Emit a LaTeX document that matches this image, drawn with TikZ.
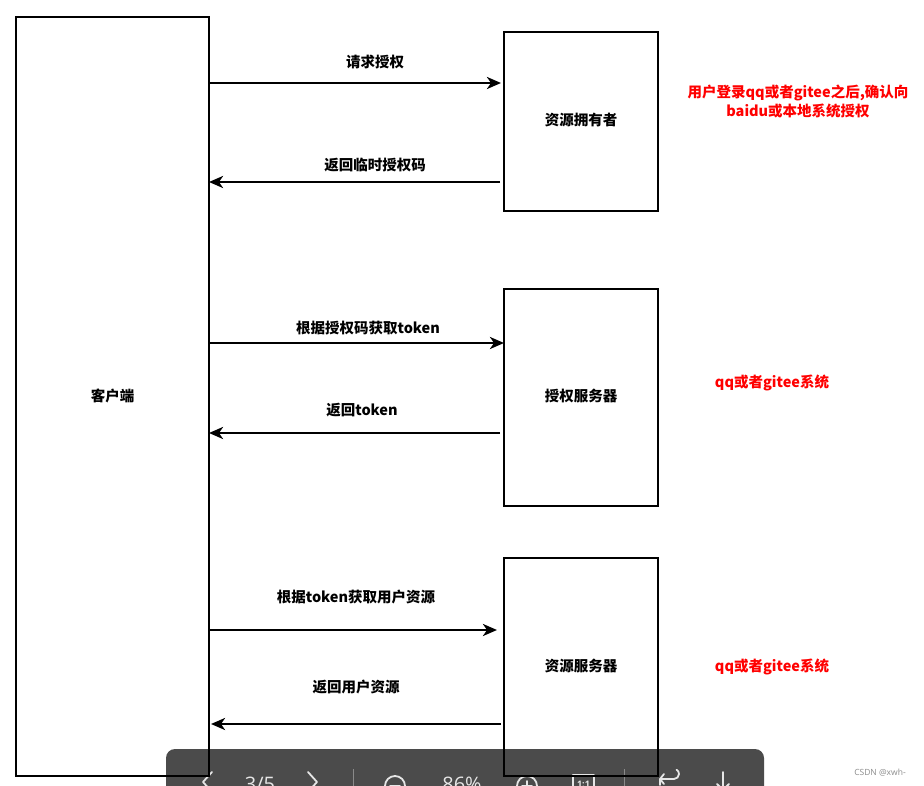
\documentclass[tikz,border=0pt]{standalone}
\usepackage{fontspec}
\setmainfont{Noto Sans CJK SC}
\newfontfamily\uifont{Open Sans}
\newfontfamily\symfont{DejaVu Sans}
\usetikzlibrary{arrows.meta}
\definecolor{barbg}{HTML}{4B4B4B}
\definecolor{barfg}{HTML}{E6E6E6}
\definecolor{sepc}{HTML}{8A8A8A}
\tikzset{
  box/.style={draw=black,line width=2.4pt,rectangle,inner sep=0pt},
  lbl/.style={font=\fontsize{14.5pt}{17pt}\selectfont\bfseries,inner sep=0pt},
  note/.style={lbl,text=red,align=center},
  msg/.style={line width=2.5pt,-{Stealth[length=14pt,width=12pt,inset=4pt]}},
  uitxt/.style={font=\uifont\fontsize{20pt}{22pt}\selectfont,text=barfg,inner sep=0pt,anchor=base},
  uiline/.style={draw=barfg,line width=1.8pt,line cap=round,line join=round}
}
\begin{document}
\begin{tikzpicture}[x=1pt,y=-1pt]
\useasboundingbox (0,0) rectangle (924,786);
\clip (0,0) rectangle (924,786);
\fill[white] (0,0) rectangle (924,786);
% viewer toolbar (behind the diagram)
\fill[barbg,rounded corners=9pt] (166,749) rectangle (764,806);
\node[uitxt] (pg) at (260,791) {3/5};
\node[uitxt] (zm) at (462,791) {86\%};
\draw[uiline] (212,772) -- (203,782) -- (212,792);
\draw[uiline] (308,772) -- (317,782) -- (308,792);
\draw[sepc,line width=0.8pt] (353,769) -- (353,786);
\draw[sepc,line width=0.8pt] (624,769) -- (624,786);
\draw[uiline] (395,786) circle (10);
\draw[uiline] (390,786) -- (400,786);
\draw[uiline] (527,786) circle (10);
\draw[uiline] (522,786) -- (532,786) (527,781) -- (527,791);
\draw[uiline,line width=1.3pt] (573,775) rectangle (594,797);
\node[font=\uifont\bfseries\fontsize{9pt}{10pt}\selectfont,text=barfg,inner sep=0pt] (oo) at (583.5,784) {1:1};
\draw[uiline] (660,785) -- (660,779) -- (674,779) arc (90:-60:5);
\draw[uiline] (664,774) -- (660,779) -- (664,784);
\draw[uiline] (723,772) -- (723,790) (717,784) -- (723,790) -- (729,784);
% diagram
\node[box,minimum width=193pt,minimum height=759pt] (client) at (112.5,396.5) {};
\node[lbl] (clientl) at (112.5,396) {客户端};
\node[box,minimum width=154pt,minimum height=179pt] (owner) at (581,121.5) {};
\node[lbl] (ownerl) at (581,120) {资源拥有者};
\node[box,minimum width=154pt,minimum height=217pt] (auth) at (581,397.5) {};
\node[lbl] (authl) at (581,396) {授权服务器};
\node[box,minimum width=154pt,minimum height=218pt] (res) at (581,667) {};
\node[lbl] (resl) at (581,666) {资源服务器};
% arrow end points
\coordinate (a1s) at (209,83);  \coordinate (a1e) at (501,83);
\coordinate (a2s) at (500,182); \coordinate (a2e) at (209,182);
\coordinate (a3s) at (209,343); \coordinate (a3e) at (504,343);
\coordinate (a4s) at (500,433); \coordinate (a4e) at (209,433);
\coordinate (a5s) at (209,630); \coordinate (a5e) at (497,630);
\coordinate (a6s) at (501,724); \coordinate (a6e) at (211,724);
\draw[msg] (a1s) -- (a1e);
\draw[msg] (a2s) -- (a2e);
\draw[msg] (a3s) -- (a3e);
\draw[msg] (a4s) -- (a4e);
\draw[msg] (a5s) -- (a5e);
\draw[msg] (a6s) -- (a6e);
\node[lbl] (m1) at (375,62) {请求授权};
\node[lbl] (m2) at (375,165) {返回临时授权码};
\node[lbl] (m3) at (368,328) {根据授权码获取token};
\node[lbl] (m4) at (362,410) {返回token};
\node[lbl] (m5) at (356,597) {根据token获取用户资源};
\node[lbl] (m6) at (356,687) {返回用户资源};
% notes
\node[note,font=\fontsize{14.5pt}{19pt}\selectfont\bfseries] (n1) at (798,101.5) {用户登录qq或者gitee之后,确认向\\baidu或本地系统授权};
\node[note] (n2) at (772,383) {qq或者gitee系统};
\node[note] (n3) at (772,667) {qq或者gitee系统};
\node[font=\uifont\fontsize{8.5pt}{10pt}\selectfont,text=black!45,inner sep=0pt] (wm) at (880,773) {CSDN @xwh-};
\end{tikzpicture}
\end{document}
